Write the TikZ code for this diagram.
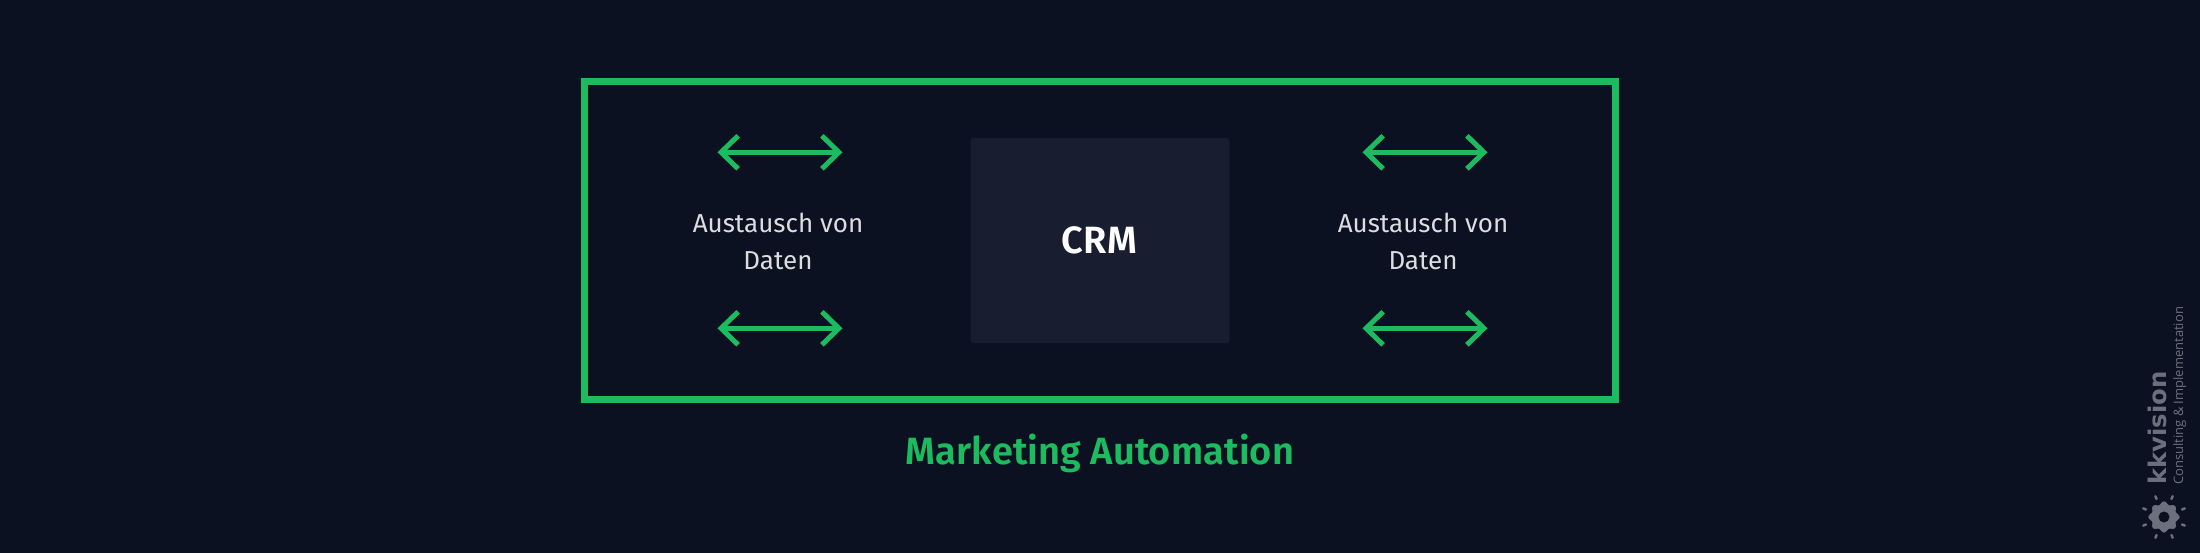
\documentclass[tikz,border=0pt]{standalone}
\usepackage{fontspec}
\setmainfont{Fira Sans}
\newfontfamily\headfont[LetterSpace=0.3]{Fira Sans SemiBold}
\newfontfamily\logofont{DejaVu Sans}
\newfontfamily\claimfont{Open Sans}
\usetikzlibrary{arrows.meta, calc}

\definecolor{bgdark}{HTML}{0B1120}
\definecolor{kkgreen}{HTML}{1DBB5F}
\definecolor{crmfill}{HTML}{181D2F}
\definecolor{labelgray}{HTML}{DDDDE0}
\definecolor{logogray}{HTML}{6C707C}

\tikzset{
    exchange/.style={<->, >={Straight Barb[length=17pt, width=33pt, line width=5pt]}, kkgreen, line width=5pt, line cap=round},
    datalabel/.style={labelgray, align=center, font=\fontsize{26}{36.5}\selectfont}
}

\begin{document}
\begin{tikzpicture}[x=1pt, y=-1pt]
        \useasboundingbox (0,0) rectangle (2200,553);
        \fill[bgdark] (0,0) rectangle (2200,553);

        % Outer frame and centre box
        \node[draw=kkgreen, line width=7pt, minimum width=1031pt, minimum height=318pt, inner sep=0pt] (frame) at (1100,240.5) {};
        \node[fill=crmfill, rounded corners=3pt, minimum width=259pt, minimum height=205pt, inner sep=0pt] (crm) at (1100,240.5) {};
        \node[white, anchor=base, font=\headfont\fontsize{38}{38}\selectfont] (crmtext) at (1099.5,254) {CRM};

        % Exchange arrows and labels, left and right
        \foreach \side/\cx in {left/780, right/1425} {
            \coordinate (\side tl) at (\cx-62.5,152.3);
            \coordinate (\side tr) at (\cx+62.5,152.3);
            \coordinate (\side bl) at (\cx-62.5,328.3);
            \coordinate (\side br) at (\cx+62.5,328.3);
            \draw[exchange] (\side tl) -- (\side tr);
            \draw[exchange] (\side bl) -- (\side br);
        }
        \node[datalabel] (leftlabel) at (778,241.5) {Austausch von\\Daten};
        \node[datalabel] (rightlabel) at (1423,241.5) {Austausch von\\Daten};

        % Caption
        \node[kkgreen, font=\headfont\fontsize{38}{38}\selectfont, anchor=base] (caption) at (1100,464.5) {Marketing Automation};

        % Logo
        \node[logogray, rotate=90, anchor=base west, inner sep=0pt, font=\logofont\fontsize{24.3}{24.3}\selectfont\bfseries] (logoname) at (2166.5,485) {kkvision};
        \node[logogray, rotate=90, anchor=base west, inner sep=0pt, font=\claimfont\fontsize{13}{13}\selectfont] (logoclaim) at (2183,485) {Consulting \& Implementation};
        \coordinate (gear) at (2164,517);
        \foreach \a in {22.5,67.5,...,337.5}
            \draw[logogray, line width=2.5pt, line cap=round] ($(gear)+(\a:19.5)$) -- ($(gear)+(\a:22.5)$);
        \fill[logogray, shift={(gear)}] plot[domain=0:360, samples=97, smooth] (\x:{14.2+1.4*cos(8*\x)}) -- cycle;
        \fill[bgdark] (gear) circle[radius=5.5];
\end{tikzpicture}
\end{document}
